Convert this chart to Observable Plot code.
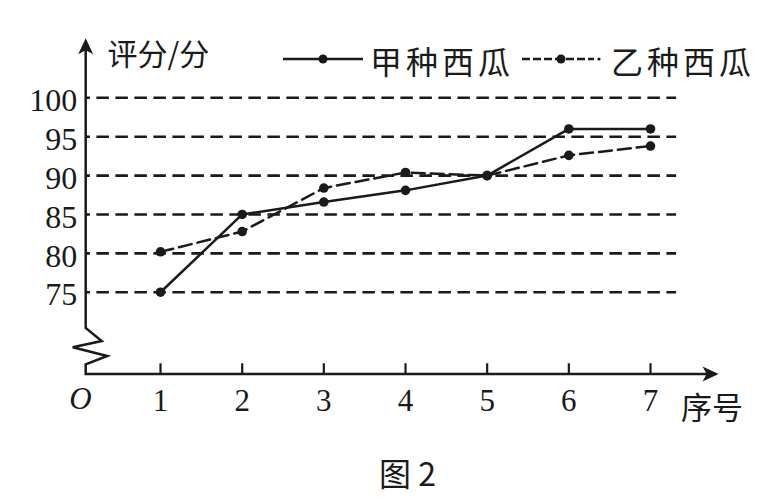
<!DOCTYPE html>
<html><head><meta charset="utf-8">
<script src="https://cdn.jsdelivr.net/npm/d3@7"></script>
<script src="https://cdn.jsdelivr.net/npm/@observablehq/plot@0.6"></script>
<style>
html,body{margin:0;padding:0;background:#fff;}
#wrap{position:relative;width:778px;height:500px;overflow:hidden;}
.cjk{font-family:"Noto Sans CJK SC","Noto Sans CJK JP",sans-serif;color:#1a1a1a;position:absolute;white-space:nowrap;line-height:1;}
.leg{font-size:32px;letter-spacing:4px;}
.sw{position:absolute;}
</style></head><body>
<div id="wrap"></div>
<script>
// ---- data ----
const seq = [1, 2, 3, 4, 5, 6, 7];
const jiaScores = [75, 85, 86.6, 88.1, 90, 96, 96];
const yiScores = [80.2, 82.8, 88.4, 90.4, 90, 92.6, 93.8];
const yTicks = [75, 80, 85, 90, 95, 100];
const xTicks = [1, 2, 3, 4, 5, 6, 7];
const seriesNames = ["甲种西瓜", "乙种西瓜"];
const yTitle = "评分/分";
const xTitle = "序号";
const originLabel = "O";
const captionText = "图 2";

// ---- scale frame ----
const X0 = 0.09, XMAX = 7.84, XGRID = 7.32;
const Y0 = 64.42, YMAX = 107.59, YBREAK_TOP = 70.34, YBREAK_BOT = 65.67;
const ink = "#1a1a1a";

const jia = seq.map((s, i) => ({seq: s, score: jiaScores[i]}));
const yi = seq.map((s, i) => ({seq: s, score: yiScores[i]}));

function axesMark(index, scales, values, dims, ctx) {
  const x0 = scales.x(X0), y0 = scales.y(Y0);
  const xe = scales.x(XMAX), ye = scales.y(YMAX);
  const bt = scales.y(YBREAK_TOP), bb = scales.y(YBREAK_BOT);
  const h = bb - bt;
  const zig = [[0, 0], [16, 0.358], [-13, 0.532], [21.6, 0.772], [0, 1]]
    .map(([dx, f]) => `${x0 + dx},${bt + f * h}`).join(" L");
  const g = d3.create("svg:g");
  g.append("path")
    .attr("d", `M${x0},${ye + 10} L${x0},${bt} L${zig} L${x0},${y0} L${xe - 10},${y0}`)
    .attr("fill", "none").attr("stroke", ink).attr("stroke-width", 2.5)
    .attr("stroke-linejoin", "miter");
  g.append("path")
    .attr("d", `M${x0},${ye} L${x0 + 7.5},${ye + 16} L${x0},${ye + 12} L${x0 - 7.5},${ye + 16} Z`)
    .attr("fill", ink);
  g.append("path")
    .attr("d", `M${xe},${y0} L${xe - 16},${y0 - 7.5} L${xe - 12},${y0} L${xe - 16},${y0 + 7.5} Z`)
    .attr("fill", ink);
  return g.node();
}

const serif = "'Liberation Serif','Times New Roman',serif";
const cjk = "'Noto Sans CJK SC','Noto Sans CJK JP',sans-serif";

const chart = Plot.plot({
  width: 778,
  height: 440,
  marginLeft: 85.7,
  marginRight: 59.4,
  marginTop: 38.3,
  marginBottom: 66,
  x: {type: "linear", domain: [X0, XMAX], axis: null},
  y: {type: "linear", domain: [Y0, YMAX], axis: null},
  style: {background: "#fff", overflow: "visible"},
  marks: [
    Plot.ruleY(yTicks, {y: d => d, x1: X0, x2: XGRID, stroke: ink, strokeWidth: 2.6,
      strokeDasharray: "12.5,6.5", strokeDashoffset: 8.3}),
    axesMark,
    Plot.ruleX(xTicks, {x: d => d, y1: Y0, y2: Y0 + 1.38, stroke: ink, strokeWidth: 2.2}),
    Plot.text(yTicks, {x: X0, y: d => d, text: d => String(d), dx: -9, dy: 3,
      textAnchor: "end", fontSize: 32, fontFamily: serif, fill: ink}),
    Plot.text(xTicks, {x: d => d, y: Y0, text: d => String(d), dy: 27,
      fontSize: 31, fontFamily: serif, fill: ink}),
    Plot.text([originLabel], {x: X0, y: Y0, text: d => d, dx: -5.7, dy: 24.5,
      fontSize: 31, fontStyle: "italic", fontFamily: serif, fill: ink}),
    Plot.text([xTitle], {x: XMAX, y: Y0, text: d => d, dx: -7, dy: 34.5,
      fontSize: 31, fontFamily: cjk, fill: ink, letterSpacing: 4}),
    Plot.text([yTitle], {x: X0, y: YMAX, text: d => d, dx: 21.3, dy: 17,
      textAnchor: "start", fontSize: 30, fontFamily: cjk, fill: ink, letterSpacing: 3}),
    Plot.line(jia, {x: "seq", y: "score", stroke: ink, strokeWidth: 2.5}),
    Plot.line(yi, {x: "seq", y: "score", stroke: ink, strokeWidth: 2.5, strokeDasharray: "13,6"}),
    Plot.dot(jia, {x: "seq", y: "score", r: 4.8, fill: ink}),
    Plot.dot(yi, {x: "seq", y: "score", r: 4.8, fill: ink})
  ]
});

const wrap = document.getElementById("wrap");
wrap.appendChild(chart);

// ---- legend (overlay) ----
function swatch(left, width, dotX, dashed) {
  const s = d3.create("svg").attr("class", "sw").attr("width", width).attr("height", 20)
    .style("left", left + "px").style("top", "49px");
  if (dashed) {
    s.append("line").attr("x1", 0).attr("x2", width - 8).attr("y1", 10).attr("y2", 10)
      .attr("stroke", ink).attr("stroke-width", 2.5).attr("stroke-dasharray", "8,3");
    s.append("circle").attr("cx", width - 3).attr("cy", 10).attr("r", 1.6).attr("fill", ink);
  } else {
    s.append("line").attr("x1", 0).attr("x2", width).attr("y1", 10).attr("y2", 10)
      .attr("stroke", ink).attr("stroke-width", 2.5);
  }
  s.append("circle").attr("cx", dotX).attr("cy", 10).attr("r", 4.5).attr("fill", ink);
  wrap.appendChild(s.node());
}
function label(text, left, top, cls) {
  const d = document.createElement("div");
  d.className = "cjk " + cls;
  d.textContent = text;
  d.style.left = left + "px";
  d.style.top = top + "px";
  wrap.appendChild(d);
  return d;
}
swatch(283, 80, 40, false);
label(seriesNames[0], 370, 44, "leg");
swatch(522, 80, 39, true);
label(seriesNames[1], 611, 44, "leg");
const cap = label(captionText, 379, 456, "");
cap.style.fontSize = "32px";
</script>
</body></html>
